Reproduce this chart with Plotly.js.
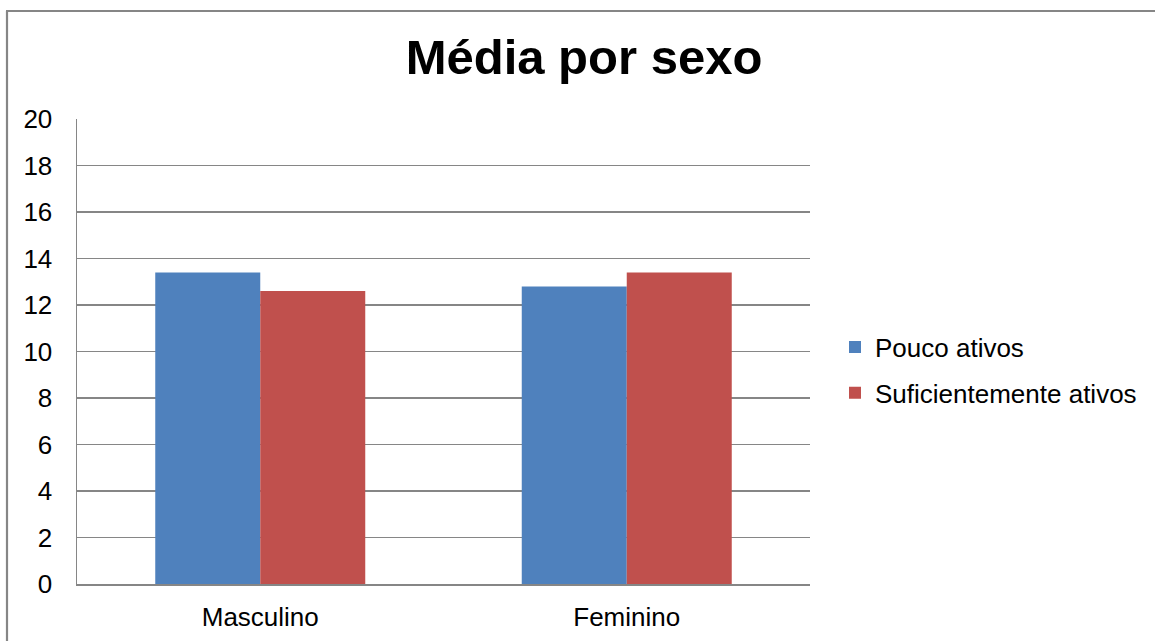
<!DOCTYPE html>
<html>
<head>
<meta charset="utf-8">
<script src="https://cdn.plot.ly/plotly-3.0.1.min.js"></script>
<style>
html,body{margin:0;padding:0;background:#fff;}
#chart{width:1155px;height:641px;}
</style>
</head>
<body>
<div id="chart"></div>
<script>
const categories = ["Masculino", "Feminino"];
const seriesNames = ["Pouco ativos", "Suficientemente ativos"];
const poucoAtivos = [13.4, 12.8];
const suficientementeAtivos = [12.6, 13.4];
const yTicks = [0, 2, 4, 6, 8, 10, 12, 14, 16, 18, 20];
const chartTitle = "Média por sexo";

const ml = 77, mr = 345, mt = 119, mb = 57;
const W = 1155, H = 641;
const pw = W - ml - mr, ph = H - mt - mb;
const px = x => (x - ml) / pw;
const py = y => (H - mb - y) / ph;

const font = "Liberation Sans, Arial, sans-serif";

const traces = [
  {type: "bar", name: seriesNames[0], x: categories, y: poucoAtivos, legendgroup: "a",
   marker: {color: "#4F81BD", line: {width: 0}}},
  {type: "bar", name: seriesNames[1], x: categories, y: suficientementeAtivos, legendgroup: "b",
   marker: {color: "#C0504D", line: {width: 0}}}
];

const layout = {
  width: W, height: H,
  margin: {l: ml, r: mr, t: mt, b: mb, pad: 0},
  paper_bgcolor: "#fff", plot_bgcolor: "#fff",
  barmode: "group", bargap: 0.427, bargroupgap: 0,
  showlegend: true,
  title: {text: chartTitle, font: {family: font, size: 49, color: "#000", weight: "bold"},
          x: px(584), xanchor: "center", xref: "paper", y: 1 - 57 / H, yanchor: "middle"},
  xaxis: {type: "category", showgrid: false, zeroline: false, showline: true,
          linecolor: "#868686", linewidth: 1.5, ticks: "",
          tickfont: {family: font, size: 26, color: "#000"}, ticklabelstandoff: 9},
  yaxis: {range: [0, 20], tickvals: yTicks, ticktext: yTicks.map(String),
          showgrid: true, gridcolor: "#868686", gridwidth: 1.3, zeroline: false,
          showline: true, linecolor: "#868686", linewidth: 1.5, ticks: "",
          tickfont: {family: font, size: 26, color: "#000"}, ticklabelstandoff: 18},
  legend: {x: px(835), xanchor: "left", y: py(370), yanchor: "middle",
           font: {family: font, size: 26, color: "#000"}, traceorder: "grouped",
           itemwidth: 30, tracegroupgap: 9, bgcolor: "rgba(0,0,0,0)"},
  shapes: [
    {type: "line", xref: "paper", yref: "paper", x0: px(7), x1: px(7), y0: py(11), y1: py(660),
     line: {color: "#868686", width: 2.2}},
    {type: "line", xref: "paper", yref: "paper", x0: px(6), x1: px(1170), y0: py(11), y1: py(11),
     line: {color: "#868686", width: 2.2}}
  ]
};

Plotly.newPlot("chart", traces, layout, {displayModeBar: false, staticPlot: true});
</script>
</body>
</html>
